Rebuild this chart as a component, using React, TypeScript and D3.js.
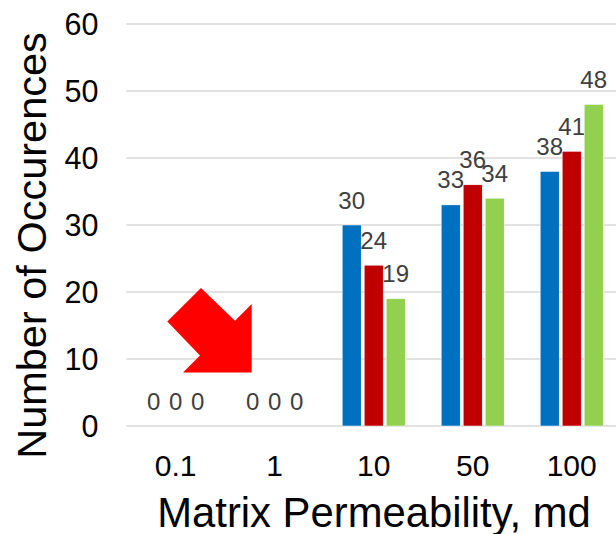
import React from "react";
import * as d3 from "d3";

const categories = ["0.1", "1", "10", "50", "100"];
const seriesNames = ["s1", "s2", "s3"];
const series1 = [0, 0, 30, 33, 38];
const series2 = [0, 0, 24, 36, 41];
const series3 = [0, 0, 19, 34, 48];
const yTicks = [0, 10, 20, 30, 40, 50, 60];
const colors = ["#0070C0", "#C00000", "#92D050"];
const xTitle = "Matrix Permeability, md";
const yTitle = "Number of Occurences";

const W = 616;
const H = 534;

export default function App() {
  const values = [series1, series2, series3];
  const x0 = d3.scaleBand<string>().domain(categories).range([126.2, 621.2]).paddingInner(0.3636).paddingOuter(0.1818);
  const x1 = d3.scaleBand<string>().domain(seriesNames).range([0, x0.bandwidth()]).paddingInner(3 / 22).paddingOuter(0);
  const y = d3.scaleLinear().domain([0, 60]).range([426, 24]);

  // annotation arrow, anchored at tip
  const tipX = (x0("1") as number) + x0.bandwidth() / 2 - 23;
  const tipY = y(8);
  const arrowOffsets: [number, number][] = [
    [-50.7, -84.4], [-16.7, -51.7], [0, -68.4], [0, 0], [-68.7, 0], [-51.7, -17], [-84.4, -51],
  ];
  const arrowPath = d3.line()(arrowOffsets.map(([dx, dy]) => [tipX + dx, tipY + dy])) + "Z";

  return (
    <svg width={W} height={H} style={{ position: "absolute", left: 0, top: 0, background: "#fff" }}
      fontFamily="Liberation Sans, Arial, sans-serif">
      {yTicks.map((t) => (
        <line key={"g" + t} x1={126.2} x2={W} y1={y(t)} y2={y(t)} stroke="#D9D9D9" strokeWidth={1.4} />
      ))}
      {yTicks.map((t) => (
        <text key={"yt" + t} x={98.5} y={y(t) + 10.8} textAnchor="end" fontSize={30.5} fill="#000">{t}</text>
      ))}
      {categories.map((c) => (
        <text key={"xt" + c} x={(x0(c) as number) + x0.bandwidth() / 2} y={475.5} textAnchor="middle" fontSize={30} fill="#000">{c}</text>
      ))}
      {categories.map((c, ci) => (
        <g key={"grp" + c} transform={`translate(${x0(c)},0)`}>
          {seriesNames.map((s, si) => {
            const v = values[si][ci];
            const bx = x1(s) as number;
            return (
              <g key={s}>
                {v > 0 && (
                  <rect x={bx} y={y(v)} width={x1.bandwidth()} height={y(0) - y(v)} fill={colors[si]} stroke="#fff" strokeWidth={0.5} />
                )}
                <text x={bx + x1.bandwidth() / 2} y={y(v) - 16.5} textAnchor="middle" fontSize={24} fill="#404040">{v}</text>
              </g>
            );
          })}
        </g>
      ))}
      <path d={arrowPath} fill="#FF0000" />
      <text x={374} y={527} textAnchor="middle" fontSize={41.8} fill="#000">{xTitle}</text>
      <text transform="translate(45.5,245.5) rotate(-90)" textAnchor="middle" fontSize={41.5} fill="#000">{yTitle}</text>
    </svg>
  );
}
